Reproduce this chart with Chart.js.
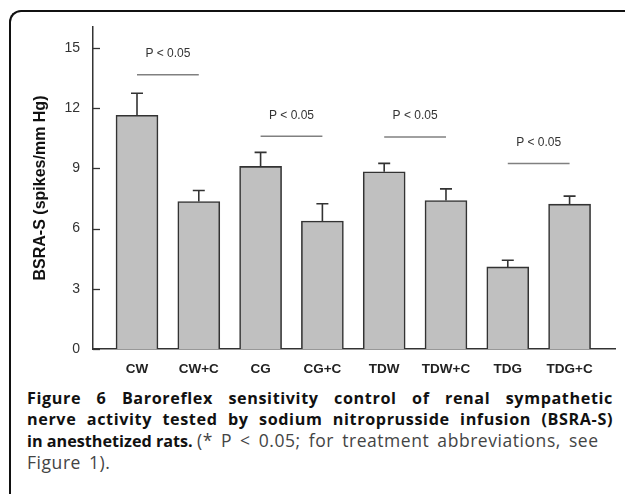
<!DOCTYPE html>
<html>
<head>
<meta charset="utf-8">
<script src="https://cdn.jsdelivr.net/npm/chart.js@4.4.1/dist/chart.umd.min.js"></script>
<style>
  body { margin: 0; background: #fff; }
  #wrap { position: relative; width: 625px; height: 494px; overflow: hidden; background: #fff; }
  #frame {
    position: absolute; left: 9px; top: 10px; width: 700px; height: 600px;
    border-top: 2px solid #111; border-left: 2px solid #111;
    border-top-left-radius: 12px;
  }
  #chartBox { position: absolute; left: 0; top: 0; width: 625px; height: 385px; }
  #caption {
    position: absolute; left: 27px; top: 388px; width: 586px;
    font-family: "Open Sans", "Noto Sans", sans-serif; font-size: 16.2px; line-height: 21px; color: #444;
  }
  #caption div { white-space: nowrap; }
  #caption .j { text-align: justify; text-align-last: justify; white-space: normal; letter-spacing: 0.6px; }
  #caption b { color: #111; }
  #caption .r { font-size: 17.5px; letter-spacing: 0.55px; word-spacing: 3px; font-weight: 400; }
</style>
</head>
<body>
<div id="wrap">
  <div id="frame"></div>
  <div id="chartBox"><canvas id="bsraChart" width="625" height="385"></canvas></div>
  <div id="caption">
    <div class="j"><b>Figure 6 Baroreflex sensitivity control of renal sympathetic</b></div>
    <div class="j"><b>nerve activity tested by sodium nitroprusside infusion (BSRA-S)</b></div>
    <div><b>in anesthetized rats.</b> <span class="r">(* P &lt; 0.05; for treatment abbreviations, see</span></div>
    <div><span class="r">Figure 1).</span></div>
  </div>
</div>
<script>
const groups = ["CW", "CW+C", "CG", "CG+C", "TDW", "TDW+C", "TDG", "TDG+C"];
const meanValues = [11.65, 7.35, 9.1, 6.38, 8.83, 7.4, 4.09, 7.22];
const errorTops = [12.75, 7.9, 9.8, 7.24, 9.25, 7.98, 4.42, 7.62];
const yTicks = [0, 3, 6, 9, 12, 15];

// significance brackets: [first bar, second bar], and their heights
const sigPairs = [[0, 1], [2, 3], [4, 5], [6, 7]];
const sigHeights = [13.67, 10.6, 10.57, 9.25];
const sigLabel = "P < 0.05";

const extras = {
    id: "extras",
    afterDatasetsDraw(chart) {
        const ctx = chart.ctx;
        const x = chart.scales.x;
        const y = chart.scales.y;
        ctx.save();

        // error bars (upper only)
        ctx.strokeStyle = "#333";
        ctx.lineWidth = 1.6;
        meanValues.forEach((v, i) => {
            const px = x.getPixelForValue(i);
            const top = y.getPixelForValue(errorTops[i]);
            ctx.beginPath();
            ctx.moveTo(px, y.getPixelForValue(v));
            ctx.lineTo(px, top);
            ctx.moveTo(px - 6, top);
            ctx.lineTo(px + 6, top);
            ctx.stroke();
        });

        // inward tick marks on y axis
        ctx.lineWidth = 1.3;
        yTicks.forEach(t => {
            const py = Math.round(y.getPixelForValue(t)) + 0.5;
            ctx.beginPath();
            ctx.moveTo(chart.chartArea.left, py);
            ctx.lineTo(chart.chartArea.left + 7, py);
            ctx.stroke();
        });

        // significance lines
        ctx.strokeStyle = "#808080";
        ctx.lineWidth = 1.5;
        ctx.fillStyle = "#333";
        ctx.font = "12px 'Liberation Sans', Arial, sans-serif";
        ctx.textAlign = "center";
        ctx.textBaseline = "middle";
        sigPairs.forEach((p, i) => {
            const x1 = x.getPixelForValue(p[0]);
            const x2 = x.getPixelForValue(p[1]);
            const py = y.getPixelForValue(sigHeights[i]);
            ctx.beginPath();
            ctx.moveTo(x1, py);
            ctx.lineTo(x2, py);
            ctx.stroke();
            ctx.fillText(sigLabel, (x1 + x2) / 2, py - 21);
        });
        ctx.restore();
    }
};

new Chart(document.getElementById("bsraChart"), {
    type: "bar",
    data: {
        datasets: [{
            data: meanValues.map((v, i) => ({ x: i, y: v })),
            backgroundColor: "#c0c0c0",
            borderColor: "#333",
            borderWidth: 1.6,
            borderSkipped: "bottom",
            barThickness: 42
        }]
    },
    options: {
        responsive: false,
        animation: false,
        layout: { padding: { top: 27, right: 10, left: 0, bottom: 0 } },
        plugins: { legend: { display: false }, tooltip: { enabled: false } },
        scales: {
            x: {
                type: "linear",
                offset: false,
                min: -0.712,
                max: 7.735,
                grid: { display: false, drawTicks: false },
                border: { display: true, color: "#333", width: 1.5 },
                afterBuildTicks: s => { s.ticks = groups.map((g, i) => ({ value: i })); },
                afterFit: s => { s.height = 36; },
                ticks: {
                    autoSkip: false,
                    maxRotation: 0,
                    padding: 12,
                    color: "#222",
                    font: { family: "'Liberation Sans', Arial, sans-serif", size: 13.5, weight: "bold" },
                    callback: v => groups[v]
                }
            },
            y: {
                min: 0,
                max: 16.05,
                grid: { display: false, drawTicks: false },
                border: { display: true, color: "#333", width: 1.5 },
                afterBuildTicks: s => { s.ticks = yTicks.map(v => ({ value: v })); },
                afterFit: s => { s.width = 93; },
                ticks: {
                    padding: 13,
                    color: "#333",
                    font: { family: "'Liberation Sans', Arial, sans-serif", size: 14 }
                },
                title: {
                    display: true,
                    text: "BSRA-S (spikes/mm Hg)",
                    color: "#111",
                    padding: { top: 31, bottom: 0 },
                    font: { family: "'Liberation Sans', Arial, sans-serif", size: 16, weight: "bold" }
                }
            }
        }
    },
    plugins: [extras]
});
</script>
</body>
</html>
